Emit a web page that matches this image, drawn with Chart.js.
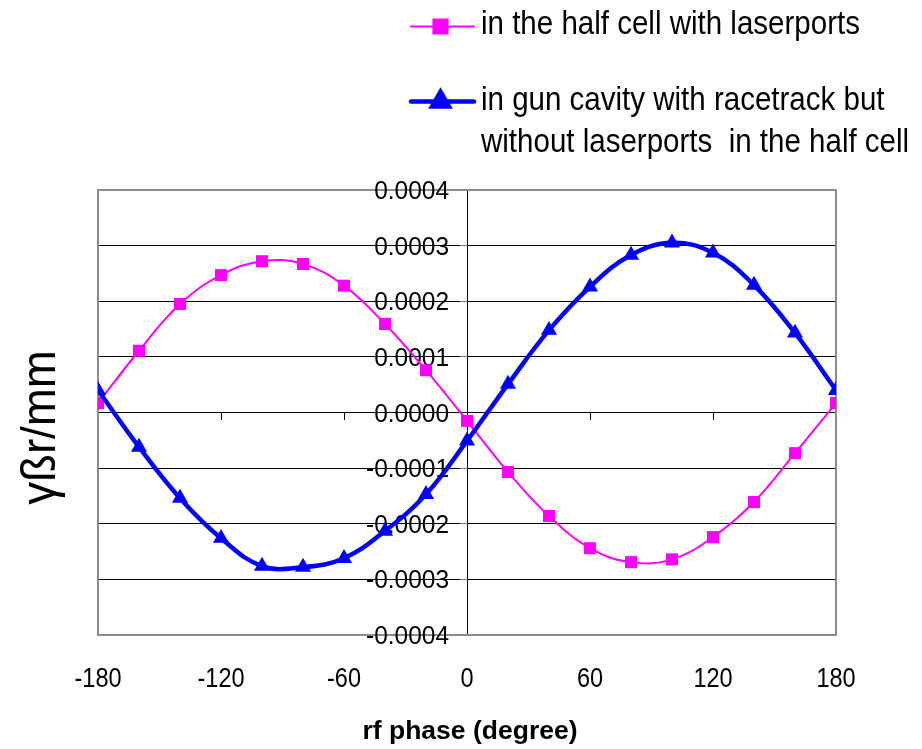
<!DOCTYPE html>
<html>
<head>
<meta charset="utf-8">
<script src="https://cdn.jsdelivr.net/npm/chart.js@4/dist/chart.umd.min.js"></script>
<style>
  html, body { margin: 0; padding: 0; background: #fff; }
  #wrap { width: 922px; height: 749px; }
</style>
</head>
<body>
<div id="wrap"><canvas id="myChart" width="922" height="749"></canvas></div>
<script>
// rf phase in degrees
const phases = [-180, -160, -140, -120, -100, -80, -60, -40, -20, 0, 20, 40, 60, 80, 100, 120, 140, 160, 180];

// gamma*beta*r per mm
const halfCell = [0.000017, 0.000111, 0.000195, 0.000247, 0.000272, 0.000267, 0.000228, 0.000159, 0.000076, -0.000015,
  -0.000107, -0.000186, -0.000244, -0.000269, -0.000264, -0.000224, -0.000161, -0.000073, 0.000017];
const gunCavity = [0.000040, -0.000062, -0.000154, -0.000226, -0.000276, -0.000278, -0.000262, -0.000213, -0.000147, -0.000051,
  0.000051, 0.000148, 0.000226, 0.000283, 0.000305, 0.000287, 0.000229, 0.000143, 0.000040];

const xTicks = [-180, -120, -60, 0, 60, 120, 180];
const yTicks = [-0.0004, -0.0003, -0.0002, -0.0001, 0, 0.0001, 0.0002, 0.0003, 0.0004];

const legendText = [
  ['in the half cell with laserports'],
  ['in gun cavity with racetrack but', 'without laserports  in the half cell']
];

const FONT = "'Liberation Sans', Arial, sans-serif";
Chart.defaults.font.family = FONT;
Chart.defaults.color = '#000';

const toPoints = (ys) => phases.map((p, i) => ({ x: p, y: ys[i] }));

// text squeezed a bit sideways, the original uses a narrow face
function txt(ctx, s, x, y, size, sx, align, bold) {
  ctx.save();
  ctx.translate(x, y);
  ctx.scale(sx, 1);
  ctx.font = (bold ? 'bold ' : '') + size + 'px ' + FONT;
  ctx.textAlign = align;
  ctx.textBaseline = 'alphabetic';
  ctx.fillStyle = '#000';
  ctx.fillText(s, 0, 0);
  ctx.restore();
}

const yLabel = (v) => (Math.abs(v) < 1e-9 ? '0.0000' : v.toFixed(4));

// border, tick labels, legend and titles
const extras = {
  id: 'extras',
  beforeDatasetsDraw(chart) {
    const ctx = chart.ctx;
    const a = chart.chartArea;
    const xs = chart.scales.x;
    const ys = chart.scales.y;
    ctx.save();
    ctx.strokeStyle = '#8c8c8c';
    ctx.lineWidth = 2;
    ctx.strokeRect(a.left, a.top, a.right - a.left, a.bottom - a.top);
    ctx.restore();

    xs.ticks.forEach(t => txt(ctx, String(t.value), xs.getPixelForValue(t.value), 687, 28, 0.84, 'center'));
    const x0 = xs.getPixelForValue(0);
    ys.ticks.forEach(t => txt(ctx, yLabel(t.value), x0 - 18, ys.getPixelForValue(t.value) + 9, 25.5, 0.96, 'right'));
  },
  afterDraw(chart) {
    const ctx = chart.ctx;
    ctx.save();

    // legend
    const items = [
      { color: '#ff00ff', width: 2, style: 'rect', radius: 10, y: 26.5, base: 34.3 },
      { color: '#0000ff', width: 4.5, style: 'triangle', radius: 9.8, y: 101.5, base: 110 }
    ];
    items.forEach((it, i) => {
      ctx.strokeStyle = it.color;
      ctx.lineWidth = it.width;
      ctx.lineCap = 'round';
      ctx.beginPath();
      ctx.moveTo(411, it.y);
      ctx.lineTo(474, it.y);
      ctx.stroke();
      ctx.fillStyle = it.color;
      Chart.helpers.drawPoint(ctx, { pointStyle: it.style, radius: it.radius, rotation: 0, borderWidth: 1 }, 440.5, it.y);
      legendText[i].forEach((t, k) => txt(ctx, t, 481, it.base + k * 41.7, 34, 0.868, 'left'));
    });

    // x title
    txt(ctx, 'rf phase (degree)', 470, 739, 26.5, 1, 'center', true);

    // y title
    ctx.translate(55, 427.5);
    ctx.rotate(-Math.PI / 2);
    txt(ctx, '\u03B3\u00DFr/mm', 0, 0, 48, 0.95, 'center');
    ctx.restore();
  }
};

new Chart(document.getElementById('myChart'), {
  type: 'line',
  data: {
    datasets: [{
      label: legendText[0].join(' '),
      data: toPoints(halfCell),
      borderColor: '#ff00ff',
      backgroundColor: '#ff00ff',
      borderWidth: 2,
      pointStyle: 'rect',
      pointRadius: 8.5,
      pointBorderWidth: 0,
      tension: 0.4,
      xAxisID: 'x',
      yAxisID: 'y',
      order: 1
    }, {
      label: legendText[1].join(' '),
      data: toPoints(gunCavity),
      borderColor: '#0000ff',
      backgroundColor: '#0000ff',
      borderWidth: 4.5,
      pointStyle: 'triangle',
      pointRadius: 9.3,
      pointBorderWidth: 0,
      tension: 0.4,
      xAxisID: 'x',
      yAxisID: 'y',
      order: 0
    }]
  },
  options: {
    responsive: false,
    animation: false,
    layout: { padding: { left: 98, right: 86, top: 190, bottom: 114 } },
    plugins: { legend: { display: false }, tooltip: { enabled: false } },
    scales: {
      x: {
        type: 'linear',
        position: 'bottom',
        min: -180,
        max: 180,
        afterBuildTicks: (s) => { s.ticks = xTicks.map(v => ({ value: v })); },
        ticks: { display: false },
        grid: { display: false, drawTicks: false },
        border: { display: false }
      },
      x0: {
        type: 'linear',
        axis: 'x',
        position: { y: 0 },
        min: -180,
        max: 180,
        afterBuildTicks: (s) => { s.ticks = xTicks.map(v => ({ value: v })); },
        ticks: { display: false },
        grid: { drawOnChartArea: false, tickLength: 7, color: '#000', lineWidth: 1 },
        border: { color: '#000', width: 1 }
      },
      y: {
        type: 'linear',
        position: { x: 0 },
        min: -0.0004,
        max: 0.0004,
        afterBuildTicks: (s) => { s.ticks = yTicks.map(v => ({ value: v })); },
        ticks: { display: false },
        grid: { color: '#000', lineWidth: 1, tickLength: 7, tickColor: '#777' },
        border: { color: '#000', width: 1 }
      }
    }
  },
  plugins: [extras]
});
</script>
</body>
</html>
